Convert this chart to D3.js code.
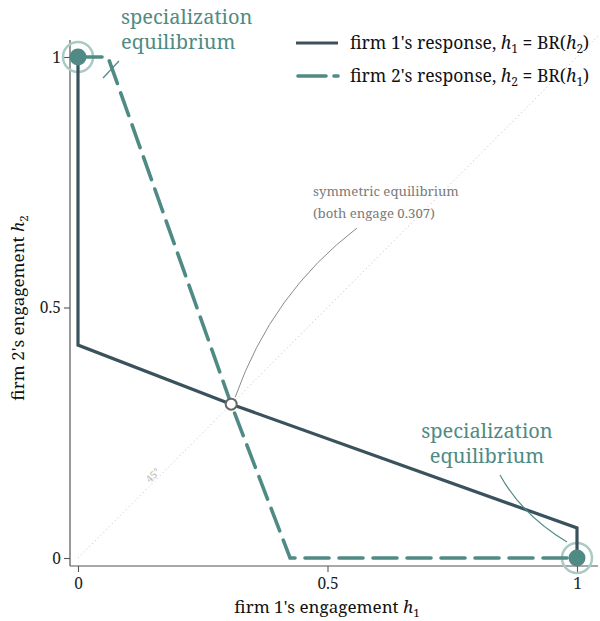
<!DOCTYPE html>
<html>
<head>
<meta charset="utf-8">
<script src="https://cdn.jsdelivr.net/npm/d3@7"></script>
<style>
  html, body { margin: 0; padding: 0; background: #fff; }
  svg { display: block; }
</style>
</head>
<body>
<svg id="chart" width="600" height="621" font-family="'Noto Serif', 'Liberation Serif', serif"></svg>
<script>
// ---- data ----
const ownEngagement = [0, 0.06, 0.307, 0.425, 1];   // rival's engagement (input)
const bestResponse  = [1, 1, 0.307, 0, 0];          // best response
const symEq = 0.307;
const specEq = [[0, 1], [1, 0]];
const xTicks = [0, 0.5, 1];
const yTicks = [0, 0.5, 1];
const xTickLabels = ["0", "0.5", "1"];
const yTickLabels = ["0", "0.5", "1"];
const diagonal = [0, 1.045];

const FONT = "'Noto Serif', 'Liberation Serif', serif";
const cDark = "#3a525e", cTeal = "#4f8b84", cRing = "#a9cac5", cGray = "#7a7a7a";

const svg = d3.select("#chart");
const x = d3.scaleLinear().domain([0, 1]).range([78, 577]);
const y = d3.scaleLinear().domain([0, 1]).range([558, 57]);

// diagonal 45°
svg.append("line")
  .attr("x1", x(diagonal[0])).attr("y1", y(diagonal[0]))
  .attr("x2", x(diagonal[1])).attr("y2", y(diagonal[1]))
  .attr("stroke", "#bdbdbd").attr("stroke-width", 1).attr("stroke-dasharray", "1,3");
svg.append("text")
  .attr("transform", `translate(${x(0.155)},${y(0.16)}) rotate(-45)`)
  .attr("text-anchor", "middle").attr("font-size", 10).attr("fill", "#b5b5b5")
  .attr("font-family", FONT).text("45°");

// axes
const xAxis = d3.axisBottom(x).tickValues(xTicks).tickFormat((d, i) => xTickLabels[i]).tickSize(6).tickSizeOuter(0);
const yAxis = d3.axisLeft(y).tickValues(yTicks).tickFormat((d, i) => yTickLabels[i]).tickSize(6).tickSizeOuter(0);
const gx = svg.append("g").attr("transform", "translate(0,566)").call(xAxis);
const gy = svg.append("g").attr("transform", "translate(70,0)").call(yAxis);
[gx, gy].forEach(g => {
  g.attr("font-family", FONT);
  g.select(".domain").remove();
  g.selectAll(".tick line").attr("stroke", "#555").attr("stroke-width", 1.1);
  g.selectAll(".tick text").attr("font-family", FONT).attr("font-size", 15.5).attr("fill", "#222");
});
gx.selectAll(".tick text").attr("dy", "0.95em").attr("y", 8);
gy.selectAll(".tick text").attr("x", -9).attr("dy", "0.33em");
svg.append("line").attr("x1", 70).attr("x2", 598).attr("y1", 566).attr("y2", 566).attr("stroke", "#555").attr("stroke-width", 1.2);
svg.append("line").attr("x1", 70).attr("x2", 70).attr("y1", 40).attr("y2", 566).attr("stroke", "#555").attr("stroke-width", 1.2);

// axis labels
const xl = svg.append("text").attr("x", 327).attr("y", 613).attr("text-anchor", "middle").attr("font-size", 17).attr("fill", "#111").attr("font-family", FONT);
xl.append("tspan").text("firm 1's engagement ");
xl.append("tspan").attr("font-style", "italic").text("h");
xl.append("tspan").attr("font-size", 11.5).attr("dy", 4).text("1");
const yl = svg.append("text").attr("transform", "translate(24,308) rotate(-90)").attr("text-anchor", "middle").attr("font-size", 17).attr("fill", "#111").attr("font-family", FONT);
yl.append("tspan").text("firm 2's engagement ");
yl.append("tspan").attr("font-style", "italic").text("h");
yl.append("tspan").attr("font-size", 11.5).attr("dy", 4).text("2");

// rings for specialization equilibria
svg.selectAll("circle.ring").data(specEq).enter().append("circle")
  .attr("class", "ring").attr("cx", d => x(d[0])).attr("cy", d => y(d[1])).attr("r", 15)
  .attr("fill", "none").attr("stroke", cRing).attr("stroke-width", 2.5);

// response curves
const line = d3.line().x(d => x(d[0])).y(d => y(d[1]));
const firm1 = ownEngagement.map((h2, i) => [bestResponse[i], h2]);
const firm2 = ownEngagement.map((h1, i) => [h1, bestResponse[i]]);
svg.append("path").attr("d", line(firm1)).attr("fill", "none").attr("stroke", cDark).attr("stroke-width", 3.2).attr("stroke-linejoin", "miter");
svg.append("path").attr("d", line(firm2)).attr("fill", "none").attr("stroke", cTeal).attr("stroke-width", 3.6)
  .attr("stroke-dasharray", "24,10").attr("stroke-linecap", "round").attr("stroke-linejoin", "miter");

// specialization dots
svg.selectAll("circle.dot").data(specEq).enter().append("circle")
  .attr("class", "dot").attr("cx", d => x(d[0])).attr("cy", d => y(d[1])).attr("r", 8.5)
  .attr("fill", cTeal);

// symmetric equilibrium connector + marker
const symPath = d3.path();
symPath.moveTo(357, 228);
symPath.quadraticCurveTo(272, 293, x(symEq) + 4, y(symEq) - 7);
svg.append("path").attr("d", symPath.toString()).attr("fill", "none").attr("stroke", "#8a8a8a").attr("stroke-width", 1);
svg.append("circle").attr("cx", x(symEq)).attr("cy", y(symEq)).attr("r", 5.5)
  .attr("fill", "#fff").attr("stroke", "#666").attr("stroke-width", 2);
const st = svg.append("text").attr("x", 313).attr("font-size", 13.2).attr("fill", cGray).attr("font-family", FONT);
st.append("tspan").attr("x", 313).attr("y", 196).text("symmetric equilibrium");
st.append("tspan").attr("x", 313).attr("y", 218).text("(both engage 0.307)");

// specialization labels
const tl = svg.append("text").attr("font-size", 20).attr("fill", cTeal).attr("font-family", FONT);
tl.append("tspan").attr("x", 121).attr("y", 24).text("specialization");
tl.append("tspan").attr("x", 121).attr("y", 49).text("equilibrium");
svg.append("line").attr("x1", 103).attr("y1", 78).attr("x2", 119).attr("y2", 61).attr("stroke", cTeal).attr("stroke-width", 1.2);

const br = svg.append("text").attr("font-size", 20).attr("fill", cTeal).attr("text-anchor", "middle").attr("font-family", FONT);
br.append("tspan").attr("x", 487).attr("y", 438).text("specialization");
br.append("tspan").attr("x", 487).attr("y", 463).text("equilibrium");
const brPath = d3.path();
brPath.moveTo(500, 475);
brPath.quadraticCurveTo(522, 515, 567, 542);
svg.append("path").attr("d", brPath.toString()).attr("fill", "none").attr("stroke", cTeal).attr("stroke-width", 1.2);

// legend
const leg = svg.append("g");
leg.append("line").attr("x1", 296).attr("x2", 338).attr("y1", 43).attr("y2", 43).attr("stroke", cDark).attr("stroke-width", 3.2);
leg.append("line").attr("x1", 298).attr("x2", 338).attr("y1", 76).attr("y2", 76).attr("stroke", cTeal).attr("stroke-width", 3.6)
  .attr("stroke-dasharray", "28,8").attr("stroke-linecap", "round");
function legText(yy, a, b) {
  const t = leg.append("text").attr("x", 350).attr("y", yy).attr("font-size", 17.5).attr("fill", "#111").attr("font-family", FONT);
  t.append("tspan").text(`firm ${a}'s response, `);
  t.append("tspan").attr("font-style", "italic").text("h");
  t.append("tspan").attr("font-size", 12).attr("dy", 4).text(a);
  t.append("tspan").attr("dy", -4).text(" = BR(");
  t.append("tspan").attr("font-style", "italic").text("h");
  t.append("tspan").attr("font-size", 12).attr("dy", 4).text(b);
  t.append("tspan").attr("dy", -4).text(")");
}
legText(49, "1", "2");
legText(82, "2", "1");
</script>
</body>
</html>
